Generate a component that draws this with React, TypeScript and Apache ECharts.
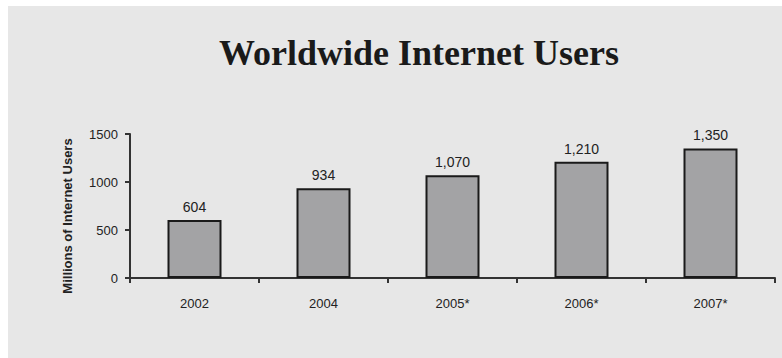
import React, { useEffect, useRef } from "react";
import * as echarts from "echarts";

const categories = ["2002", "2004", "2005*", "2006*", "2007*"];
const users = [604, 934, 1070, 1210, 1350];
const yTicks = [0, 500, 1000, 1500];

export default function App() {
  const ref = useRef<HTMLDivElement>(null);
  useEffect(() => {
    if (!ref.current) return;
    const chart = echarts.init(ref.current, null, { renderer: "svg" });
    chart.setOption({
      animation: false,
      backgroundColor: "#ffffff",
      graphic: [
        {
          type: "rect",
          z: -10,
          silent: true,
          shape: { x: 8, y: 6, width: 782, height: 360 },
          style: { fill: "#e7e7e7" },
        },
      ],
      title: {
        text: "Worldwide Internet Users",
        left: 414,
        top: 30,
        textAlign: "center",
        textStyle: {
          fontFamily: "Liberation Serif",
          fontSize: 36,
          fontWeight: "bold",
          color: "#1a1a1a",
        },
      },
      grid: { left: 130, right: 7, top: 134, bottom: 80, containLabel: false },
      xAxis: {
        type: "category",
        data: categories,
        axisLine: { lineStyle: { color: "#333333", width: 2 } },
        axisTick: { show: true, length: 5, lineStyle: { color: "#333333", width: 2 } },
        axisLabel: {
          margin: 19,
          fontFamily: "Liberation Sans",
          fontSize: 13,
          color: "#222222",
        },
      },
      yAxis: {
        type: "value",
        min: yTicks[0],
        max: yTicks[yTicks.length - 1],
        interval: 500,
        name: "Millions of Internet Users",
        nameLocation: "middle",
        nameGap: 56,
        nameTextStyle: {
          fontFamily: "Liberation Sans",
          fontSize: 13,
          fontWeight: "bold",
          color: "#222222",
          padding: [0, 20, 0, 0],
        },
        axisLine: { show: true, lineStyle: { color: "#333333", width: 2 } },
        axisTick: { show: true, length: 5, lineStyle: { color: "#333333", width: 2 } },
        splitLine: { show: false },
        axisLabel: {
          margin: 12,
          fontFamily: "Liberation Sans",
          fontSize: 13,
          color: "#222222",
          formatter: (v: number) => String(v),
        },
      },
      series: [
        {
          type: "bar",
          data: users,
          barWidth: 54,
          itemStyle: { color: "#a3a3a5", borderColor: "#1a1a1a", borderWidth: 2 },
          label: {
            show: true,
            position: "top",
            distance: 6,
            fontFamily: "Liberation Sans",
            fontSize: 14,
            color: "#222222",
            formatter: (p: any) => Number(p.value).toLocaleString("en-US"),
          },
        },
      ],
    });
    return () => chart.dispose();
  }, []);
  return (
    <div
      ref={ref}
      style={{ position: "absolute", left: 0, top: 0, width: 782, height: 358 }}
    />
  );
}
